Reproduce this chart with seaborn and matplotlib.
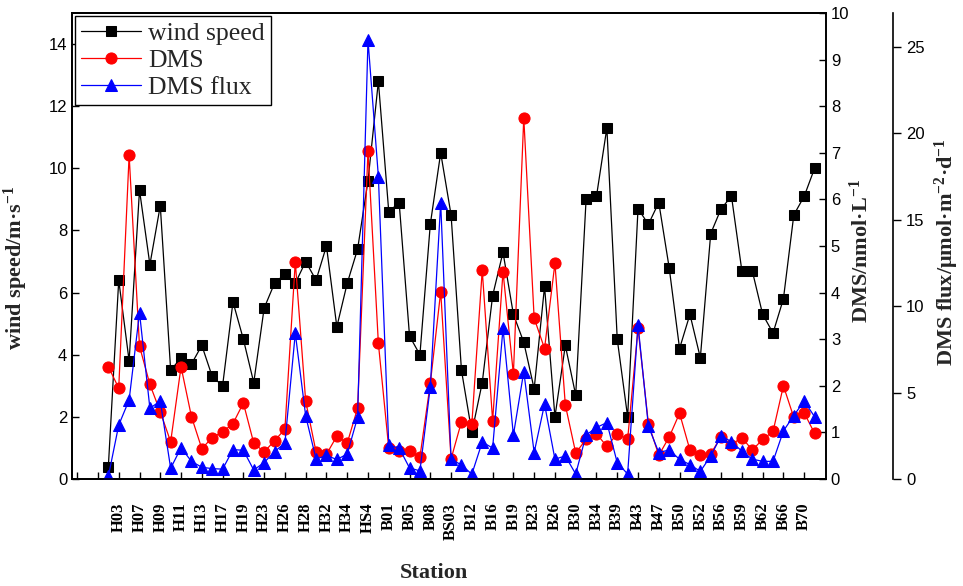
import numpy as np
import pandas as pd
import matplotlib
matplotlib.use('Agg')
import matplotlib.pyplot as plt
import seaborn as sns

# ---------------- data ----------------
station_labels = ['H03', 'H07', 'H09', 'H11', 'H13', 'H17', 'H19', 'H23', 'H26', 'H28',
                  'H32', 'H34', 'HS4', 'B01', 'B05', 'B08', 'BS03', 'B12', 'B16', 'B19',
                  'B23', 'B26', 'B30', 'B34', 'B39', 'B43', 'B47', 'B50', 'B52', 'B56',
                  'B59', 'B62', 'B66', 'B70']

wind_speed = [0.4, 6.4, 3.8, 9.3, 6.9, 8.8, 3.5, 3.9, 3.7, 4.3, 3.3, 3.0, 5.7, 4.5,
              3.1, 5.5, 6.3, 6.6, 6.3, 7.0, 6.4, 7.5, 4.9, 6.3, 7.4, 9.6, 12.8, 8.6,
              8.9, 4.6, 4.0, 8.2, 10.5, 8.5, 3.5, 1.5, 3.1, 5.9, 7.3, 5.3, 4.4, 2.9,
              6.2, 2.0, 4.3, 2.7, 9.0, 9.1, 11.3, 4.5, 2.0, 8.7, 8.2, 8.9, 6.8, 4.2,
              5.3, 3.9, 7.9, 8.7, 9.1, 6.7, 6.7, 5.3, 4.7, 5.8, 8.5, 9.1, 10.0]

dms = [2.41, 1.95, 6.95, 2.85, 2.03, 1.44, 0.80, 2.41, 1.34, 0.65, 0.89, 1.01, 1.19, 1.63,
       0.77, 0.58, 0.82, 1.07, 4.66, 1.67, 0.58, 0.53, 0.92, 0.77, 1.52, 7.04, 2.91, 0.66,
       0.60, 0.60, 0.47, 2.05, 4.02, 0.43, 1.23, 1.18, 4.48, 1.25, 4.45, 2.25, 7.75, 3.45,
       2.80, 4.63, 1.59, 0.56, 0.85, 0.97, 0.70, 0.97, 0.85, 3.23, 1.19, 0.51, 0.90, 1.41,
       0.62, 0.52, 0.54, 0.91, 0.74, 0.89, 0.62, 0.85, 1.02, 2.00, 1.32, 1.42, 0.98]

dms_flux = [0.15, 3.12, 4.57, 9.62, 4.09, 4.51, 0.62, 1.81, 1.02, 0.68, 0.60, 0.57, 1.70, 1.66,
            0.52, 0.95, 1.58, 2.08, 8.43, 3.65, 1.15, 1.36, 1.13, 1.44, 3.57, 25.39, 17.49, 1.95,
            1.79, 0.64, 0.47, 5.34, 15.98, 1.15, 0.81, 0.28, 2.14, 1.79, 8.71, 2.54, 6.21, 1.53,
            4.33, 1.15, 1.33, 0.29, 2.54, 2.98, 3.26, 0.94, 0.29, 8.91, 3.05, 1.53, 1.68, 1.14,
            0.83, 0.44, 1.33, 2.49, 2.16, 1.61, 1.15, 1.02, 1.02, 2.78, 3.67, 4.51, 3.60]

# ---------------- style ----------------
sns.set_style('ticks')
plt.rcParams['font.family'] = ['Liberation Sans', 'DejaVu Sans']
plt.rcParams['mathtext.fontset'] = 'custom'
plt.rcParams['mathtext.rm'] = 'Liberation Serif'
plt.rcParams['mathtext.bf'] = 'Liberation Serif:bold'
plt.rcParams['mathtext.it'] = 'Liberation Serif:italic'

pos = np.arange(len(wind_speed))
df = pd.DataFrame({'pos': pos, 'wind': wind_speed, 'dms': dms, 'flux': dms_flux})

W, H = 963, 586
fig = plt.figure(figsize=(W / 100, H / 100), dpi=100)
L, R, T, B = 72, 826, 13, 479
ax = fig.add_axes([L / W, 1 - B / H, (R - L) / W, (B - T) / H])
ax2 = ax.twinx()
ax3 = ax.twinx()
ax3.spines['right'].set_position(('outward', 67 * 0.72))

common = dict(linewidth=0.9)
sns.lineplot(data=df, x='pos', y='wind', ax=ax, color='black', marker='s', markersize=7,
             markeredgecolor='black', label='wind speed', legend=False, **common)
sns.lineplot(data=df, x='pos', y='dms', ax=ax2, color='red', marker='o', markersize=8,
             markeredgecolor='red', label='DMS', legend=False, **common)
sns.lineplot(data=df, x='pos', y='flux', ax=ax3, color='blue', marker='^', markersize=9,
             markeredgecolor='blue', label='DMS flux', legend=False, **common)

ax.set_xlim(-3.5, 69.1)
ax.set_ylim(0, 15)
ax2.set_ylim(0, 10)
ax3.set_ylim(0, 26.95)

tick_pos = [-3, -1] + list(pos[1::2])
ax.set_xticks(tick_pos)
ax.set_xticklabels([''] * 2 + station_labels, rotation=90,
                   fontfamily='Liberation Serif', fontweight='bold', fontsize=12)
ax.set_yticks(np.arange(0, 15, 2))
ax2.set_yticks(np.arange(0, 11, 1))
ax3.set_yticks(np.arange(0, 26, 5))

for a in (ax, ax2, ax3):
    for s in a.spines.values():
        s.set_linewidth(1.2)
        s.set_color('black')

ax.tick_params(axis='x', direction='in', length=5, width=1, pad=17, colors='black')
ax.tick_params(axis='y', direction='in', length=5, width=1, labelsize=12, colors='black')
ax2.tick_params(axis='y', direction='in', length=5, width=1, labelsize=12, colors='black')
ax3.tick_params(axis='y', direction='out', length=6, width=1, labelsize=12, colors='black')

lab_kw = dict(fontfamily='Liberation Serif', fontweight='bold', fontsize=16)
ax.set_xlabel('Station', **lab_kw)
ax.set_ylabel(r'wind speed/m·s$^{\mathbf{-1}}$', **lab_kw)
ax2.set_ylabel(r'DMS/nmol·L$^{\mathbf{-1}}$', **lab_kw)
ax3.set_ylabel(r'DMS flux/μmol·m$^{\mathbf{-2}}$·d$^{\mathbf{-1}}$', **lab_kw)

ax.xaxis.set_label_coords(0.48, (B - 563) / (B - T))
ax.yaxis.set_label_coords((30 - L) / (R - L), (B - 268) / (B - T))
ax2.yaxis.set_label_coords((850 - L) / (R - L), (B - 251) / (B - T))
ax3.yaxis.set_label_coords((933 - L) / (R - L), (B - 252) / (B - T))

handles = ax.get_lines()[:1] + ax2.get_lines()[:1] + ax3.get_lines()[:1]
labels = ['wind speed', 'DMS', 'DMS flux']
leg = ax3.legend(handles, labels, loc='upper left', bbox_to_anchor=(0.004, 0.994),
                 borderaxespad=0, prop={'family': 'Liberation Serif', 'size': 18.5},
                 handlelength=2.3, handletextpad=0.3, labelspacing=0.15, borderpad=0.25,
                 fancybox=False, edgecolor='black', framealpha=1)
leg.get_frame().set_linewidth(1.0)

fig.savefig('out.png', dpi=100)
